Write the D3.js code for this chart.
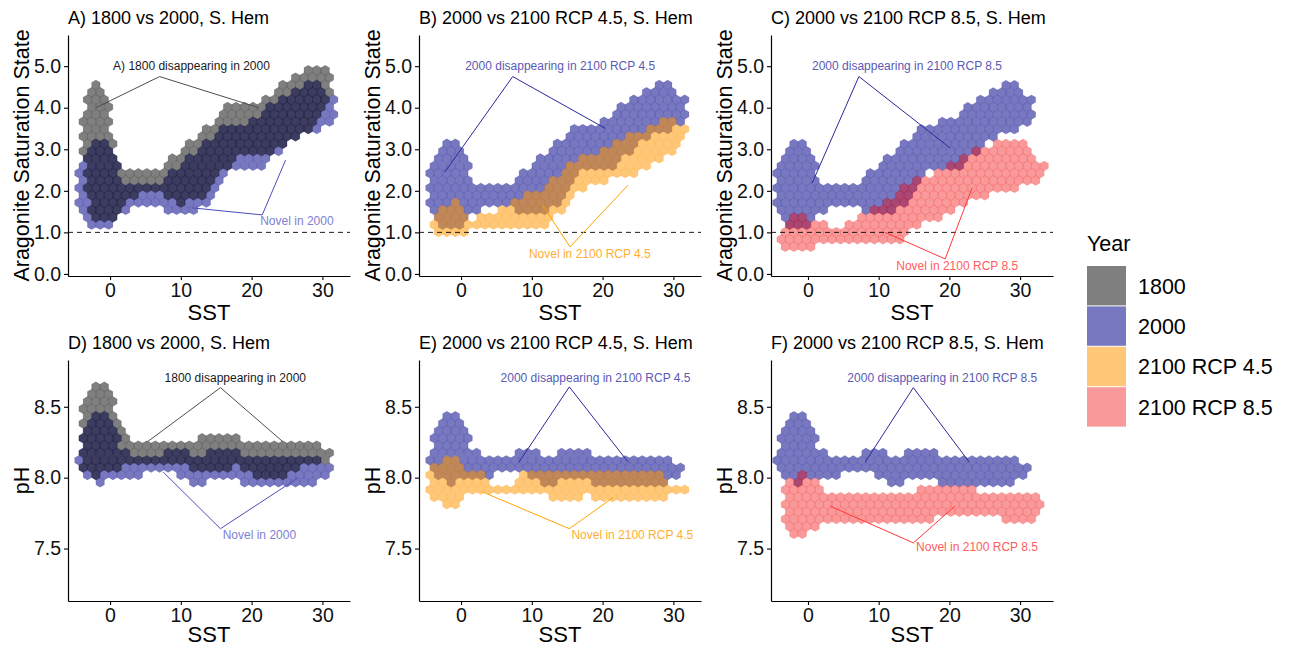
<!DOCTYPE html>
<html>
<head>
<meta charset="utf-8">
<script src="https://d3js.org/d3.v7.min.js"></script>
<style>
  body { margin: 0; background: #fff; }
  text { font-family: "Liberation Sans", Arial, sans-serif; }
</style>
</head>
<body>
<svg id="chart" width="1299" height="648"></svg>
<script>

// ---- data: hex-bin footprints as [SST, lower edge, upper edge] ----

var years = ["1800", "2000", "2100 RCP 4.5", "2100 RCP 8.5"];

var arag2000 = [
  [-4.5, 1.30, 2.65], [-3.4, 1.15, 2.95], [-2.2, 1.05, 3.25], [-0.6, 1.05, 3.25],
  [0.7, 1.15, 3.00], [1.6, 1.35, 2.30], [2.6, 1.45, 2.15], [5.1, 1.55, 2.15],
  [6.6, 1.50, 2.25], [8.2, 1.45, 2.45], [10.2, 1.30, 2.75], [12.2, 1.45, 3.00],
  [13.8, 1.65, 3.25], [15.3, 2.05, 3.50], [17.3, 2.40, 3.70], [19.4, 2.45, 3.75],
  [21.4, 2.40, 3.90], [23.0, 2.75, 4.20], [25.5, 3.05, 4.45], [28.0, 3.30, 4.65],
  [30.1, 3.45, 4.65], [31.6, 3.55, 4.30]
];
var arag1800 = [
  [-4.0, 2.85, 4.00], [-2.8, 1.15, 4.45], [-1.7, 1.15, 4.70], [-0.4, 1.15, 4.50],
  [0.7, 1.25, 3.10], [1.9, 1.50, 2.60], [3.3, 1.80, 2.50], [5.7, 1.90, 2.55],
  [8.0, 1.80, 2.75], [9.9, 1.60, 3.05], [12.7, 1.70, 3.40], [15.0, 2.10, 3.90],
  [17.3, 2.70, 4.20], [19.7, 2.70, 4.20], [22.0, 2.80, 4.35], [24.4, 3.05, 4.75],
  [26.7, 3.25, 4.85], [29.1, 3.40, 5.15], [31.0, 4.20, 5.10]
];
var arag45 = [
  [-4.4, 0.95, 1.35], [-3.3, 0.85, 1.65], [-1.9, 0.85, 1.75], [-0.8, 0.85, 1.90],
  [0.5, 0.90, 1.70], [1.5, 0.95, 1.45], [2.0, 1.00, 1.30], [3.0, 1.05, 1.50],
  [5.0, 1.05, 1.55], [7.0, 1.00, 1.80], [9.0, 0.95, 2.00], [11.0, 1.00, 2.10],
  [13.0, 1.20, 2.40], [14.5, 1.50, 2.60], [16.0, 1.85, 2.80], [18.0, 2.00, 2.95],
  [20.0, 2.10, 3.10], [22.0, 2.20, 3.30], [24.0, 2.30, 3.45], [26.0, 2.45, 3.55],
  [28.0, 2.60, 3.70], [30.0, 2.80, 3.85], [31.5, 3.20, 3.60]
];
var arag85 = [
  [-3.9, 0.48, 1.15], [-2.2, 0.44, 1.45], [-0.3, 0.44, 1.45], [1.6, 0.60, 1.30],
  [3.9, 0.60, 1.20], [6.3, 0.72, 1.36], [8.7, 0.60, 1.60], [11.0, 0.60, 1.85],
  [13.4, 0.76, 2.12], [15.3, 1.00, 2.40], [17.2, 1.16, 2.50], [20.0, 1.40, 2.75],
  [22.9, 1.64, 3.00], [25.7, 1.80, 3.20], [28.6, 1.88, 3.30], [30.5, 2.04, 3.36],
  [32.4, 2.12, 2.92], [33.3, 2.28, 2.68]
];

var ph2000 = [
  [-4.3, 8.03, 8.24], [-3.3, 7.97, 8.40], [-2.3, 7.95, 8.50], [-1.2, 7.89, 8.50],
  [-0.5, 7.95, 8.50], [0.5, 7.97, 8.38], [1.5, 7.99, 8.25], [2.5, 7.99, 8.18],
  [4.5, 7.99, 8.18], [5.0, 8.04, 8.18], [7.5, 8.04, 8.18], [8.0, 8.00, 8.23],
  [11.3, 7.99, 8.23], [11.8, 7.94, 8.18], [13.5, 7.94, 8.18], [14.0, 7.99, 8.23],
  [17.5, 7.99, 8.23], [18.0, 7.94, 8.18], [29.1, 7.94, 8.18], [29.6, 7.99, 8.14],
  [31.5, 8.00, 8.10]
];
var ph1800 = [
  [-4.0, 8.05, 8.57], [-2.8, 8.00, 8.65], [-1.7, 7.99, 8.70], [-0.4, 8.00, 8.70],
  [0.7, 8.02, 8.52], [1.9, 8.05, 8.34], [3.2, 8.08, 8.30], [7.9, 8.10, 8.30],
  [10.0, 8.06, 8.30], [12.6, 8.03, 8.30], [15.2, 8.03, 8.34], [17.3, 8.03, 8.34],
  [18.4, 8.08, 8.30], [20.0, 7.99, 8.30], [24.2, 7.99, 8.30], [25.2, 7.99, 8.26],
  [27.3, 8.05, 8.26], [29.4, 8.07, 8.25], [31.0, 8.10, 8.20]
];
var ph45 = [
  [-4.4, 7.86, 8.09], [-3.3, 7.79, 8.13], [-1.9, 7.78, 8.15], [-0.8, 7.78, 8.19],
  [0.2, 7.80, 8.10], [1.2, 7.86, 8.05], [3.8, 7.87, 8.05], [4.2, 7.87, 7.99],
  [7.5, 7.87, 7.99], [7.8, 7.87, 8.05], [11.5, 7.87, 8.05], [12.0, 7.82, 8.05],
  [17.5, 7.82, 8.05], [18.0, 7.87, 8.05], [19.5, 7.82, 8.05], [28.5, 7.82, 8.05],
  [29.0, 7.86, 7.99], [31.8, 7.88, 7.97]
];
var ph85 = [
  [-3.6, 7.64, 7.98], [-2.4, 7.57, 8.00], [-1.2, 7.55, 8.07], [-0.3, 7.57, 8.02],
  [1.2, 7.61, 7.99], [2.4, 7.67, 7.93], [15.0, 7.67, 7.93], [15.5, 7.67, 7.98],
  [17.3, 7.67, 7.98], [17.6, 7.72, 7.98], [23.6, 7.72, 7.98], [24.0, 7.72, 7.93],
  [27.4, 7.72, 7.93], [27.7, 7.67, 7.93], [32.5, 7.67, 7.90], [33.0, 7.74, 7.86],
  [34.2, 7.74, 7.80]
];

// annotations: label centre, apex of the two leader lines, line ends (data units)
var notesA = [
  { kind: "dis1800", label: "A) 1800 disappearing in 2000", at: [11.5, 5.0], apex: [7, 4.75], ends: [[-2, 4.0], [21, 4.0]] },
  { kind: "nov2000", label: "Novel in 2000", at: [26.4, 1.27], apex: [21.5, 1.42], ends: [[11.6, 1.59], [24.8, 2.74]] }
];
var notesB = [
  { kind: "dis2000", label: "2000 disappearing in 2100 RCP 4.5", at: [14.0, 5.0], apex: [7.3, 4.75], ends: [[-2.3, 2.45], [20.4, 3.5]] },
  { kind: "nov45", label: "Novel in 2100 RCP 4.5", at: [18.2, 0.48], apex: [15.4, 0.65], ends: [[11.5, 1.66], [23.6, 2.14]] }
];
var notesC = [
  { kind: "dis2000", label: "2000 disappearing in 2100 RCP 8.5", at: [14.0, 5.0], apex: [7.2, 4.75], ends: [[0.6, 2.19], [20.1, 3.03]] },
  { kind: "nov85", label: "Novel in 2100 RCP 8.5", at: [21.1, 0.19], apex: [19.4, 0.36], ends: [[10.9, 1.0], [23.2, 2.07]] }
];
var notesD = [
  { kind: "dis1800", label: "1800 disappearing in 2000", at: [17.7, 8.705], apex: [15.6, 8.635], ends: [[5.2, 8.25], [24.5, 8.25]] },
  { kind: "nov2000", label: "Novel in 2000", at: [21.1, 7.60], apex: [15.6, 7.64], ends: [[7.5, 8.04], [26.6, 8.0]] }
];
var notesE = [
  { kind: "dis2000", label: "2000 disappearing in 2100 RCP 4.5", at: [19.0, 8.705], apex: [15.3, 8.64], ends: [[8.2, 8.11], [23.6, 8.11]] },
  { kind: "nov45", label: "Novel in 2100 RCP 4.5", at: [24.2, 7.60], apex: [15.3, 7.64], ends: [[3.0, 7.90], [21.5, 7.86]] }
];
var notesF = [
  { kind: "dis2000", label: "2000 disappearing in 2100 RCP 8.5", at: [19.0, 8.705], apex: [14.9, 8.635], ends: [[8.1, 8.11], [22.8, 8.11]] },
  { kind: "nov85", label: "Novel in 2100 RCP 8.5", at: [23.9, 7.51], apex: [14.9, 7.54], ends: [[3.1, 7.80], [20.8, 7.80]] }
];

var sstTicks = [0, 10, 20, 30];
var aragTicks = [0, 1, 2, 3, 4, 5];
var phTicks = [7.5, 8.0, 8.5];

var panels = [
  { title: "A) 1800 vs 2000, S. Hem", row: 0, col: 0, layers: [["2000", arag2000], ["1800", arag1800]], notes: notesA },
  { title: "B) 2000 vs 2100 RCP 4.5, S. Hem", row: 0, col: 1, layers: [["2000", arag2000], ["2100 RCP 4.5", arag45]], notes: notesB },
  { title: "C) 2000 vs 2100 RCP 8.5, S. Hem", row: 0, col: 2, layers: [["2000", arag2000], ["2100 RCP 8.5", arag85]], notes: notesC },
  { title: "D) 1800 vs 2000, S. Hem", row: 1, col: 0, layers: [["2000", ph2000], ["1800", ph1800]], notes: notesD },
  { title: "E) 2000 vs 2100 RCP 4.5, S. Hem", row: 1, col: 1, layers: [["2000", ph2000], ["2100 RCP 4.5", ph45]], notes: notesE },
  { title: "F) 2000 vs 2100 RCP 8.5, S. Hem", row: 1, col: 2, layers: [["2000", ph2000], ["2100 RCP 8.5", ph85]], notes: notesF }
];

// ---- styling ----

var fillColor = d3.scaleOrdinal().domain(years).range(["#000000", "#000088", "#ff9600", "#f00000"]);
var fillAlpha = d3.scaleOrdinal().domain(years).range([0.5, 0.53, 0.53, 0.4]);

var noteStyle = {
  dis1800: { text: "#1a1a1a", line: "#4d4d4d" },
  dis2000: { text: "#5a5ab4", line: "#2a2a9c" },
  nov2000: { text: "#8080d2", line: "#4d4dbb" },
  nov45:   { text: "#ffae33", line: "#ffa200" },
  nov85:   { text: "#ff5c5c", line: "#ff3838" }
};

var svg = d3.select("#chart");
var panelLeft = [68, 419, 771];
// the RCP 8.5 column reaches further right, so its SST range is shifted
var sstDomains = [[-5.94, 33.9], [-5.94, 33.9], [-5.23, 34.65]];
var plotW = 282;
var rowBox = [{ top: 35, bottom: 276 }, { top: 360, bottom: 601 }];
var binWidth = 1.2;   // SST hex width

function envelopeAt(env, x) {
  var n = env.length;
  if (x < env[0][0] - 0.15 || x > env[n - 1][0] + 0.15) return null;
  if (x <= env[0][0]) return [env[0][1], env[0][2]];
  if (x >= env[n - 1][0]) return [env[n - 1][1], env[n - 1][2]];
  for (var i = 0; i < n - 1; i++) {
    var a = env[i], b = env[i + 1];
    if (x >= a[0] && x <= b[0]) {
      var t = b[0] === a[0] ? 0 : (x - a[0]) / (b[0] - a[0]);
      return [a[1] + t * (b[1] - a[1]), a[2] + t * (b[2] - a[2])];
    }
  }
  return null;
}

panels.forEach(function (p) {
  var left = panelLeft[p.col], box = rowBox[p.row];
  var isPh = p.row === 1;
  var x = d3.scaleLinear().domain(sstDomains[p.col]).range([left, left + plotW]);
  var y = d3.scaleLinear().domain(isPh ? [7.13, 8.83] : [-0.05, 5.75]).range([box.bottom, box.top]);
  var g = svg.append("g");

  // hex geometry, regular in pixels
  var wPx = x(binWidth) - x(0);
  var r = wPx / Math.sqrt(3);
  var dyPx = 1.5 * r;
  var dy = dyPx / Math.abs(y(1) - y(0));
  var y0 = isPh ? 7.5 : 0.3;
  var hexPath = d3.range(6).map(function (k) {
    var a = Math.PI / 180 * (60 * k - 90);
    return [r * Math.cos(a), r * Math.sin(a)];
  });
  var hexD = "M" + hexPath.map(function (q) { return q[0].toFixed(2) + "," + q[1].toFixed(2); }).join("L") + "Z";

  p.layers.forEach(function (layer) {
    var year = layer[0], env = layer[1];
    var cells = [];
    for (var j = 0; j < 60; j++) {
      var cy = y0 + j * dy;
      var off = (j % 2) ? binWidth / 2 : 0;
      for (var i = 0; i < 40; i++) {
        var cx = -4.4 + off + i * binWidth;
        var e = envelopeAt(env, cx);
        if (!e) continue;
        if (cy >= e[0] + 0.45 * dy && cy <= e[1] - 0.45 * dy) cells.push([cx, cy]);
      }
    }
    g.append("g").selectAll("path").data(cells).join("path")
      .attr("d", hexD)
      .attr("transform", function (d) { return "translate(" + x(d[0]) + "," + y(d[1]) + ")"; })
      .attr("fill", fillColor(year))
      .attr("fill-opacity", fillAlpha(year))
      .attr("stroke", fillColor(year))
      .attr("stroke-opacity", 0.2)
      .attr("stroke-width", 0.6);
  });

  if (!isPh) {
    g.append("line")
      .attr("x1", left).attr("x2", left + plotW)
      .attr("y1", y(1)).attr("y2", y(1))
      .attr("stroke", "#000").attr("stroke-width", 0.9)
      .attr("stroke-dasharray", "5,4");
  }

  // annotations
  p.notes.forEach(function (n) {
    var st = noteStyle[n.kind];
    n.ends.forEach(function (e) {
      g.append("line")
        .attr("x1", x(n.apex[0])).attr("y1", y(n.apex[1]))
        .attr("x2", x(e[0])).attr("y2", y(e[1]))
        .attr("stroke", st.line).attr("stroke-width", 1);
    });
    g.append("text")
      .attr("x", x(n.at[0])).attr("y", y(n.at[1]))
      .attr("dy", "0.35em")
      .attr("text-anchor", "middle")
      .attr("font-size", 12)
      .attr("fill", st.text)
      .text(n.label);
  });

  // axes
  var xa = g.append("g").attr("transform", "translate(0," + box.bottom + ")")
    .call(d3.axisBottom(x).tickValues(sstTicks).tickSize(4).tickSizeOuter(0).tickPadding(3));
  var ya = g.append("g").attr("transform", "translate(" + left + ",0)")
    .call(d3.axisLeft(y).tickValues(isPh ? phTicks : aragTicks).tickFormat(d3.format(".1f"))
      .tickSize(4).tickSizeOuter(0).tickPadding(3));
  [xa, ya].forEach(function (a) {
    a.select(".domain").attr("stroke", "#000").attr("stroke-width", 1.2);
    a.selectAll(".tick line").attr("stroke", "#000").attr("stroke-width", 1.1);
    a.selectAll(".tick text").attr("font-size", 19.5).attr("fill", "#111")
      .attr("font-family", "Liberation Sans, Arial, sans-serif");
  });

  g.append("text")
    .attr("x", left + plotW / 2).attr("y", box.bottom + (isPh ? 41 : 44))
    .attr("text-anchor", "middle").attr("font-size", 22).attr("fill", "#000")
    .text("SST");
  g.append("text")
    .attr("transform", "translate(" + (left - 39) + "," + ((box.top + box.bottom) / 2) + ") rotate(-90)")
    .attr("text-anchor", "middle").attr("font-size", 21.5).attr("fill", "#000")
    .text(isPh ? "pH" : "Aragonite Saturation State");
  g.append("text")
    .attr("x", left).attr("y", box.top - 11)
    .attr("font-size", 18).attr("fill", "#000")
    .text(p.title);
});

// legend
var lg = svg.append("g").attr("transform", "translate(1087,0)");
lg.append("text").attr("x", 0).attr("y", 251).attr("font-size", 21.5).attr("fill", "#000").text("Year");
var key = lg.selectAll("g.key").data(years).join("g")
  .attr("class", "key")
  .attr("transform", function (d, i) { return "translate(0," + (266 + i * 40.4) + ")"; });
key.append("rect")
  .attr("width", 39).attr("height", 39.4)
  .attr("fill", function (d) { return fillColor(d); })
  .attr("fill-opacity", function (d) { return fillAlpha(d); });
key.append("text")
  .attr("x", 51).attr("y", 20).attr("dy", "0.35em")
  .attr("font-size", 21.5).attr("fill", "#000")
  .text(function (d) { return d; });

</script>
</body>
</html>
